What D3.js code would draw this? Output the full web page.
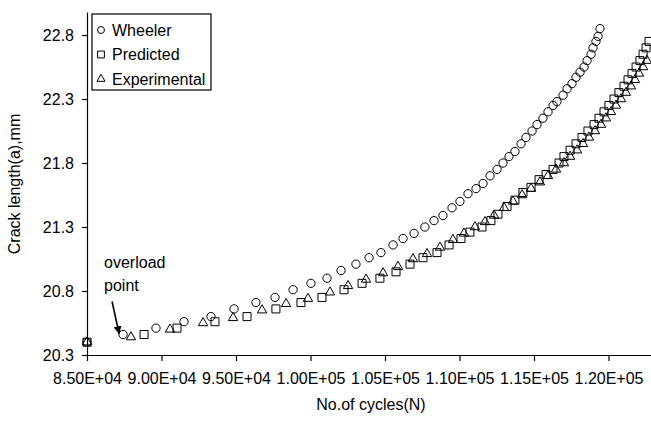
<!DOCTYPE html>
<html>
<head>
<meta charset="utf-8">
<script src="https://cdn.jsdelivr.net/npm/d3@7"></script>
<style>
body { margin: 0; background: #fff; }
text { font-family: "Liberation Sans", Arial, sans-serif; fill: #000; }
</style>
</head>
<body>
<div id="chart-area"></div>
<script>
// values
var wheelerN = [85000, 87420, 89630, 91510, 93320, 94870, 96340, 97620, 98830, 100030,
    101110, 102050, 103050, 103930, 104730, 105540, 106210, 106950, 107680, 108290,
    108890, 109500, 110030, 110570, 111110, 111580, 112050, 112520, 112920, 113320,
    113720, 114130, 114460, 114870, 115200, 115600, 115940, 116280, 116540, 116950,
    117220, 117550, 117820, 118090, 118360, 118560, 118830, 118960, 119160, 119300, 119430];
var wheelerA = [20.40, 20.46, 20.51, 20.56, 20.60, 20.66, 20.71, 20.75, 20.81, 20.86,
    20.90, 20.96, 21.01, 21.06, 21.10, 21.16, 21.21, 21.25, 21.30, 21.35,
    21.39, 21.45, 21.50, 21.56, 21.60, 21.64, 21.70, 21.75, 21.80, 21.85,
    21.89, 21.95, 22.00, 22.05, 22.10, 22.15, 22.20, 22.25, 22.28, 22.33,
    22.38, 22.42, 22.47, 22.51, 22.55, 22.60, 22.65, 22.70, 22.75, 22.79, 22.85];

var predictedN = [85000, 88830, 91040, 93590, 95740, 97680, 99360, 100770, 102250, 103460,
    104660, 105740, 106680, 107550, 108490, 109300, 110100, 110700, 111510, 112110,
    112580, 113190, 113720, 114260, 114800, 115340, 115810, 116280, 116680, 117010,
    117420, 117820, 118220, 118620, 119030, 119360, 119700, 120030, 120370, 120700,
    121040, 121310, 121580, 121850, 122110, 122320, 122520, 122720];
var predictedA = [20.40, 20.46, 20.51, 20.56, 20.60, 20.66, 20.71, 20.75, 20.81, 20.86,
    20.90, 20.95, 21.01, 21.06, 21.10, 21.16, 21.21, 21.26, 21.30, 21.35,
    21.40, 21.46, 21.51, 21.57, 21.61, 21.67, 21.71, 21.75, 21.80, 21.85,
    21.90, 21.95, 22.00, 22.05, 22.10, 22.15, 22.20, 22.25, 22.30, 22.35,
    22.40, 22.45, 22.50, 22.55, 22.60, 22.65, 22.70, 22.75];

var experimentalN = [85000, 87950, 90570, 92790, 94800, 96750, 98360, 99830, 101310, 102520,
    103730, 104870, 105870, 106880, 107820, 108690, 109560, 110300, 111040, 111710,
    112320, 112990, 113590, 114200, 114800, 115400, 115940, 116480, 117010, 117420,
    117890, 118290, 118690, 119090, 119500, 119830, 120170, 120500, 120840, 121170,
    121510, 121780, 122050, 122320, 122580];
var experimentalA = [20.40, 20.44, 20.50, 20.55, 20.59, 20.65, 20.70, 20.74, 20.79, 20.84,
    20.89, 20.94, 20.99, 21.05, 21.09, 21.14, 21.20, 21.25, 21.30, 21.34,
    21.39, 21.45, 21.50, 21.55, 21.60, 21.65, 21.70, 21.75, 21.80, 21.85,
    21.90, 21.95, 22.00, 22.05, 22.10, 22.15, 22.20, 22.25, 22.30, 22.35,
    22.40, 22.45, 22.50, 22.55, 22.60];

var seriesNames = ["Wheeler", "Predicted", "Experimental"];
var xTicks = [85000, 90000, 95000, 100000, 105000, 110000, 115000, 120000];
var yTicks = [20.3, 20.8, 21.3, 21.8, 22.3, 22.8];

var margin = {top: 12, left: 87};
var width = 596;
var height = 343;
var fontSize = "16px";

var x = d3.scaleLinear().domain([85000, 125000]).range([0, width]);
var y = d3.scaleLinear().domain([20.3, 22.98]).range([height, 0]);

var svg = d3.select("#chart-area")
    .append("svg")
    .attr("width", 651)
    .attr("height", 422);

svg.append("defs").append("marker")
    .attr("id", "arrow")
    .attr("viewBox", "0 0 10 10")
    .attr("refX", 9)
    .attr("refY", 5)
    .attr("markerWidth", 5)
    .attr("markerHeight", 5)
    .attr("markerUnits", "strokeWidth")
    .attr("orient", "auto")
    .append("path")
    .attr("d", "M0,0 L10,5 L0,10 Z")
    .attr("fill", "#000");

var g = svg.append("g")
    .attr("transform", "translate(" + margin.left + ", " + margin.top + ")");

function sciFormat(d) {
    var parts = d.toExponential(2).split("e");
    var ex = +parts[1];
    var sign = ex < 0 ? "-" : "+";
    var digits = Math.abs(ex) < 10 ? "0" + Math.abs(ex) : "" + Math.abs(ex);
    return parts[0] + "E" + sign + digits;
}

var xAxisGroup = g.append("g")
    .attr("transform", "translate(0, " + height + ")")
    .call(d3.axisBottom(x).tickValues(xTicks).tickFormat(sciFormat)
        .tickSize(6).tickSizeOuter(0).tickPadding(12));

var yAxisGroup = g.append("g")
    .call(d3.axisLeft(y).tickValues(yTicks).tickFormat(d3.format(".1f"))
        .tickSize(5).tickSizeOuter(0).tickPadding(8));

g.selectAll(".domain").attr("stroke", "#000").attr("stroke-width", 1.2);
g.selectAll(".tick line").attr("stroke", "#000").attr("stroke-width", 1.2);
g.selectAll(".tick text")
    .attr("font-size", fontSize)
    .attr("font-family", "Liberation Sans, Arial, sans-serif")
    .attr("fill", "#000");

// axis titles
svg.append("text")
    .attr("x", 371)
    .attr("y", 410)
    .attr("text-anchor", "middle")
    .attr("font-size", fontSize)
    .text("No.of cycles(N)");

svg.append("text")
    .attr("transform", "translate(20, 184) rotate(-90)")
    .attr("text-anchor", "middle")
    .attr("font-size", fontSize)
    .text("Crack length(a),mm");

var circleSym = d3.symbol().type(d3.symbolCircle).size(54);
var squareSym = d3.symbol().type(d3.symbolSquare).size(64);
var triangleSym = d3.symbol().type(d3.symbolTriangle).size(38);

function drawSeries(nVals, aVals, sym, cls) {
    g.selectAll("path." + cls)
        .data(d3.zip(nVals, aVals))
        .enter()
        .append("path")
        .attr("class", cls)
        .attr("d", sym)
        .attr("transform", (d) => "translate(" + x(d[0]) + ", " + y(d[1]) + ")")
        .attr("fill", "none")
        .attr("stroke", "#000")
        .attr("stroke-width", 1);
}

drawSeries(wheelerN, wheelerA, circleSym, "wheeler");
drawSeries(predictedN, predictedA, squareSym, "predicted");
drawSeries(experimentalN, experimentalA, triangleSym, "experimental");

// overload annotation, anchored to the second Wheeler point
var ox = x(wheelerN[1]);
var oy = y(wheelerA[1]);
g.append("line")
    .attr("x1", ox - 11)
    .attr("y1", oy - 33)
    .attr("x2", ox - 4)
    .attr("y2", oy - 1)
    .attr("stroke", "#000")
    .attr("stroke-width", 1.6)
    .attr("marker-end", "url(#arrow)");

var note = g.append("text")
    .attr("x", ox - 19)
    .attr("y", oy - 67)
    .attr("font-size", fontSize);
note.append("tspan").attr("x", ox - 19).text("overload");
note.append("tspan").attr("x", ox - 19).attr("dy", 23).text("point");

// legend
var legend = svg.append("g").attr("transform", "translate(92, 14)");
legend.append("rect")
    .attr("width", 119)
    .attr("height", 76)
    .attr("fill", "#fff")
    .attr("stroke", "#000")
    .attr("stroke-width", 1.2);

var legendSyms = [
    d3.symbol().type(d3.symbolCircle).size(38),
    d3.symbol().type(d3.symbolSquare).size(46),
    d3.symbol().type(d3.symbolTriangle).size(28)
];

var items = legend.selectAll("g.item")
    .data(seriesNames)
    .enter()
    .append("g")
    .attr("class", "item")
    .attr("transform", (d, i) => "translate(0, " + (16 + i * 24.5) + ")");

items.append("path")
    .attr("d", (d, i) => legendSyms[i]())
    .attr("transform", "translate(9, 0)")
    .attr("fill", "none")
    .attr("stroke", "#000")
    .attr("stroke-width", 1);

items.append("text")
    .attr("x", 20)
    .attr("y", 5.5)
    .attr("font-size", fontSize)
    .text((d) => d);
</script>
</body>
</html>
